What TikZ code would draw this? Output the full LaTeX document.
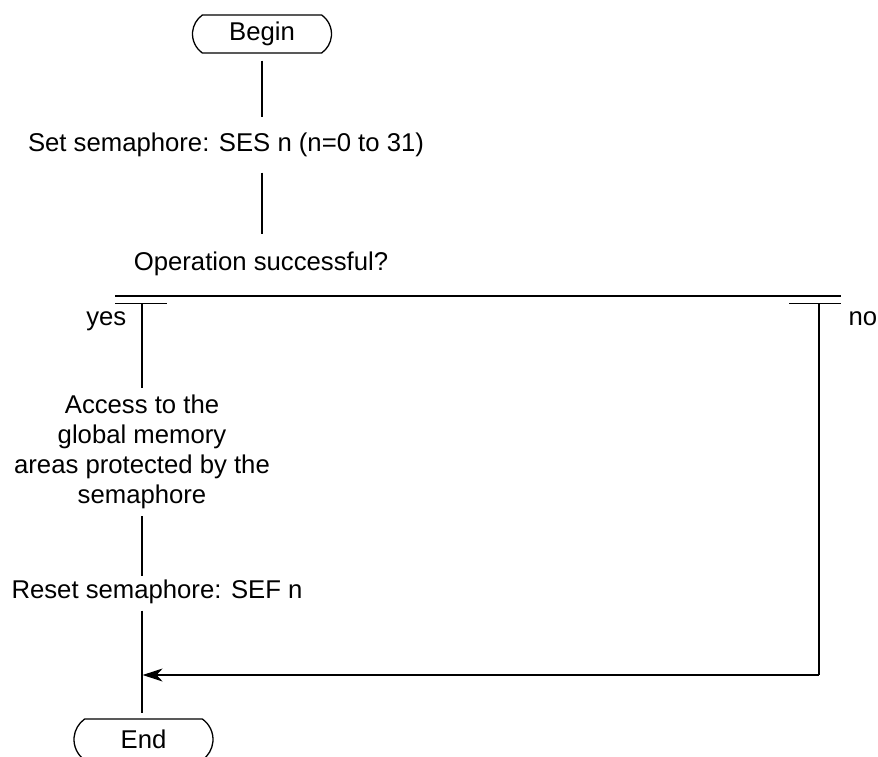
\documentclass[tikz,border=0pt]{standalone}
\usepackage{fontspec}
\setmainfont{Liberation Sans}
\usetikzlibrary{shapes.misc,arrows.meta}
\begin{document}
\begin{tikzpicture}[x=1pt,y=-1pt,
  line width=1.3pt,
  every node/.style={font=\fontsize{25.7}{30}\selectfont, inner sep=0pt},
  terminal/.style={draw, rounded rectangle, rounded rectangle arc length=110,
    minimum width=139pt, minimum height=38pt},
  txt/.style={anchor=base, text height=18.5pt, text depth=5.5pt},
  arrowline/.style={-{Stealth[length=20pt,width=13pt,inset=6pt]}}
]
\useasboundingbox (0,0) rectangle (878,757);

% start and end terminals (the end one runs past the lower page edge)
\node[terminal] (begin) at (262,34) {Begin};
\node[terminal, minimum height=41pt] (end) at (143.5,739.5) {End};

% process and decision texts
\node[txt] (set) at (226,152) {Set semaphore: SES n (n=0 to 31)};
\node[txt] (op) at (261,270) {Operation successful?};
\node[txt, anchor=base east] (yes) at (127,325) {yes};
\node[txt, anchor=base west] (no) at (848,325) {no};
\node[align=center, anchor=north] (access) at (142,394.5)
  {Access to the\\global memory\\areas protected by the\\semaphore};
\node[txt] (reset) at (157,598) {Reset semaphore: SEF n};

% branch bars of the decision
\coordinate (dl) at (115,296);   \coordinate (dr) at (841,296);
\coordinate (yl) at (115,303.5); \coordinate (yr) at (167,303.5);
\coordinate (nl) at (789,303.5); \coordinate (nr) at (841,303.5);
\coordinate (ytop) at (142,303.5);
\coordinate (ntop) at (819,303.5);
\coordinate (nbot) at (819,675);
\coordinate (join) at (142,675);

\draw (dl) -- (dr);
\draw (yl) -- (yr);
\draw (nl) -- (nr);

% main flow
\draw[shorten <=7pt, shorten >=15.5pt] (begin.south) -- (begin.south |- set.north);
\draw[shorten <=14.5pt, shorten >=16.5pt] (begin.south |- set.south) -- (begin.south |- op.north);
\draw[shorten >=6.5pt] (ytop) -- (ytop |- access.north);
\draw[shorten <=6.5pt, shorten >=2.5pt] (ytop |- access.south) -- (ytop |- reset.north);
\draw[shorten <=6.5pt, shorten >=5pt] (ytop |- reset.south) -- (ytop |- end.north);

% "no" branch returning to the main flow
\draw (ntop) -- (nbot);
\draw[arrowline, shorten >=0.6pt] (nbot) -- (join);
\end{tikzpicture}
\end{document}
